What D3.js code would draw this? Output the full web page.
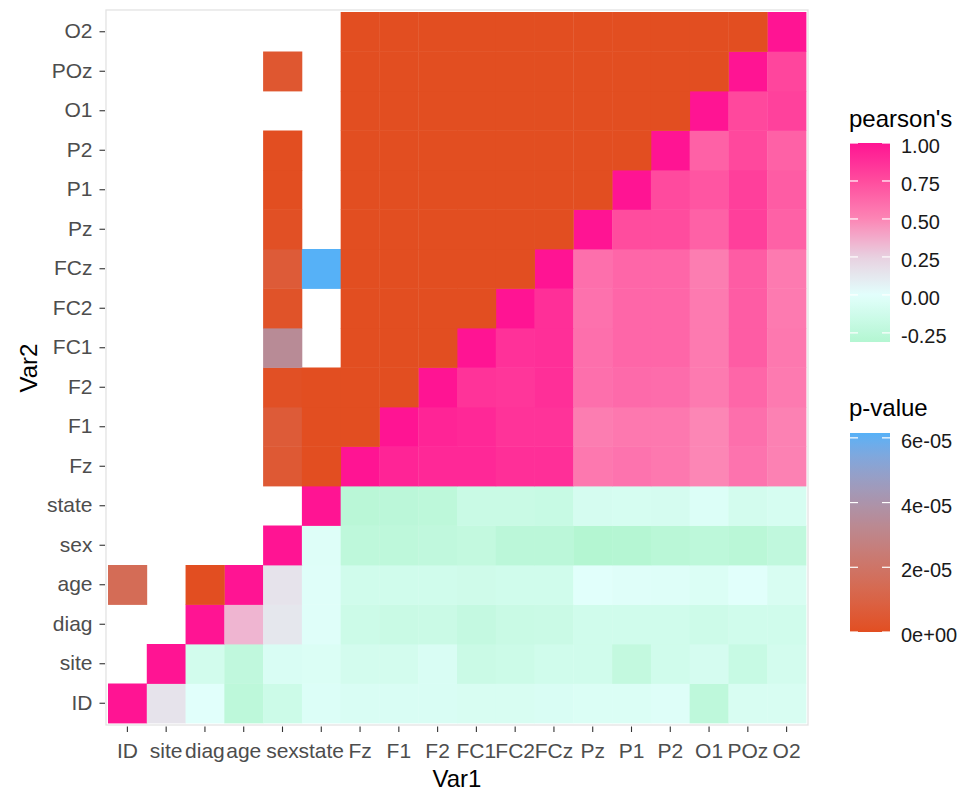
<!DOCTYPE html>
<html>
<head>
<meta charset="utf-8">
<script src="https://cdn.jsdelivr.net/npm/d3@7"></script>
<style>
  body { margin: 0; background: #fff; }
  text { font-family: "Liberation Sans", Arial, sans-serif; }
</style>
</head>
<body>
<svg id="chart" width="972" height="791"></svg>
<script>
// Variables in axis order (bottom-to-top on y, left-to-right on x)
const variables = ["ID", "site", "diag", "age", "sex", "state", "Fz", "F1", "F2",
                   "FC1", "FC2", "FCz", "Pz", "P1", "P2", "O1", "POz", "O2"];

// Pearson's r: row k holds r(variables[k], variables[k..17]), diagonal first
const pearsonRows = [
  [1, 0.15, -0.01, -0.25, -0.15, -0.04, -0.06, -0.06, -0.06, -0.07, -0.07, -0.06, -0.05, -0.05, -0.03, -0.24, -0.07, -0.07], // ID
  [1, -0.11, -0.23, -0.06, -0.05, -0.10, -0.10, -0.06, -0.16, -0.15, -0.12, -0.12, -0.21, -0.12, -0.09, -0.18, -0.10],      // site
  [1, 0.34, 0.13, -0.02, -0.15, -0.17, -0.16, -0.20, -0.17, -0.16, -0.12, -0.12, -0.12, -0.14, -0.12, -0.12],              // diag
  [1, 0.15, -0.02, -0.12, -0.12, -0.12, -0.13, -0.12, -0.12, -0.01, -0.02, -0.03, -0.05, -0.01, -0.07],                   // age
  [1, -0.03, -0.24, -0.24, -0.23, -0.21, -0.26, -0.26, -0.31, -0.30, -0.27, -0.25, -0.27, -0.23],                         // sex
  [1, -0.27, -0.26, -0.25, -0.17, -0.17, -0.18, -0.09, -0.08, -0.09, -0.04, -0.10, -0.08],                                // state
  [1, 0.93, 0.91, 0.91, 0.88, 0.88, 0.56, 0.58, 0.56, 0.50, 0.58, 0.52],  // Fz
  [1, 0.93, 0.91, 0.86, 0.86, 0.54, 0.56, 0.56, 0.50, 0.60, 0.52],        // F1
  [1, 0.86, 0.85, 0.88, 0.60, 0.62, 0.61, 0.55, 0.64, 0.55],              // F2
  [1, 0.87, 0.88, 0.60, 0.64, 0.64, 0.55, 0.68, 0.56],                    // FC1
  [1, 0.88, 0.59, 0.64, 0.64, 0.55, 0.68, 0.55],                          // FC2
  [1, 0.60, 0.64, 0.64, 0.54, 0.68, 0.55],                                // FCz
  [1, 0.75, 0.75, 0.66, 0.81, 0.66],                                      // Pz
  [1, 0.76, 0.71, 0.81, 0.68],                                            // P1
  [1, 0.66, 0.77, 0.66],                                                  // P2
  [1, 0.77, 0.80],                                                        // O1
  [1, 0.78],                                                              // POz
  [1]                                                                     // O2
];

// p-values: row k holds p(variables[0..k-1], variables[k]); null = not significant, left blank
const _ = null;
const pValueRows = [
  [],                                                                  // ID
  [_],                                                                 // site
  [_, _],                                                              // diag
  [1.5e-5, _, 0],                                                      // age
  [_, _, _, _],                                                        // sex
  [_, _, _, _, _],                                                     // state
  [_, _, _, _, 0.5e-5, 0],                                             // Fz
  [_, _, _, _, 0.6e-5, 0, 0],                                          // F1
  [_, _, _, _, 0.1e-5, 0, 0, 0],                                       // F2
  [_, _, _, _, 3.4e-5, _, 0, 0, 0],                                    // FC1
  [_, _, _, _, 0.2e-5, _, 0, 0, 0, 0],                                 // FC2
  [_, _, _, _, 0.6e-5, 6.15e-5, 0, 0, 0, 0, 0],                        // FCz
  [_, _, _, _, 0.1e-5, _, 0, 0, 0, 0, 0, 0],                           // Pz
  [_, _, _, _, 0, _, 0, 0, 0, 0, 0, 0, 0],                             // P1
  [_, _, _, _, 0, _, 0, 0, 0, 0, 0, 0, 0, 0],                          // P2
  [_, _, _, _, _, _, 0, 0, 0, 0, 0, 0, 0, 0, 0],                       // O1
  [_, _, _, _, 0.4e-5, _, 0, 0, 0, 0, 0, 0, 0, 0, 0, 0],               // POz
  [_, _, _, _, _, _, 0, 0, 0, 0, 0, 0, 0, 0, 0, 0, 0]                  // O2
];

const pearsonBreaks = [1.00, 0.75, 0.50, 0.25, 0.00, -0.25];
const pValueBreaks = [6e-5, 4e-5, 2e-5, 0];

// palette anchors for r (mint -> pale cyan -> lavender -> deep pink)
const pearsonStops = [-1, 0, 0.25, 0.5, 0.75, 1];
const pearsonColours = ["#4CE274", "#E2FFFC", "#E8D0E0", "#FC86B5", "#FF4C9E", "#FF1493"];
const pValueColours = ["#E24E21", "#56B1F7"];

// ---- long-format tiles ----
const rTiles = [];
pearsonRows.forEach((row, k) => row.forEach((r, i) => {
  rTiles.push({ var1: variables[k + i], var2: variables[k], value: r });
}));
const pTiles = [];
pValueRows.forEach((row, k) => row.forEach((p, i) => {
  if (p !== null) pTiles.push({ var1: variables[i], var2: variables[k], value: p });
}));

const svg = d3.select("#chart");
const fmtLocale = d3.formatLocale({ decimal: ".", thousands: ",", grouping: [3],
                                    currency: ["", ""], minus: "-" });

const x = d3.scaleBand().domain(variables).range([108, 806]);
const y = d3.scaleBand().domain(variables).range([723, 12]);

const rExtent = d3.extent(rTiles, d => d.value);
const fillR = d3.scaleLinear()
  .domain(pearsonStops)
  .range(pearsonColours)
  .interpolate(d3.interpolateRgb);

const pExtent = [0, d3.max(pTiles, d => d.value)];
const fillP = d3.scaleLinear()
  .domain(pExtent)
  .range(pValueColours)
  .interpolate(d3.interpolateLab);

// panel border
svg.append("rect")
  .attr("x", 106).attr("y", 10).attr("width", 702).attr("height", 715)
  .attr("fill", "#fff").attr("stroke", "#E3E3E3").attr("stroke-width", 1.3);

// tiles
svg.append("g").selectAll("rect.r").data(rTiles).join("rect")
  .attr("class", "r")
  .attr("x", d => x(d.var1)).attr("y", d => y(d.var2))
  .attr("width", x.bandwidth() + 0.4).attr("height", y.bandwidth() + 0.4)
  .attr("fill", d => fillR(d.value));

svg.append("g").selectAll("rect.p").data(pTiles).join("rect")
  .attr("class", "p")
  .attr("x", d => x(d.var1)).attr("y", d => y(d.var2))
  .attr("width", x.bandwidth() + 0.4).attr("height", y.bandwidth() + 0.4)
  .attr("fill", d => fillP(d.value));

// axes
const xAxis = svg.append("g")
  .attr("transform", "translate(0,726.5)")
  .call(d3.axisBottom(x).tickSize(5.5).tickPadding(11));
const yAxis = svg.append("g")
  .attr("transform", "translate(105,0)")
  .call(d3.axisLeft(y).tickSize(5.5).tickPadding(7));
[xAxis, yAxis].forEach(g => {
  g.select(".domain").remove();
  g.selectAll(".tick line").attr("stroke", "#333333").attr("stroke-width", 1.1);
  g.selectAll(".tick text")
    .attr("fill", "#4D4D4D")
    .style("font-size", "21px")
    .style("font-family", "'Liberation Sans', Arial, sans-serif");
});

// axis titles
svg.append("text")
  .attr("x", 457).attr("y", 787)
  .attr("text-anchor", "middle")
  .style("font-size", "24px").attr("fill", "#000")
  .text("Var1");
svg.append("text")
  .attr("transform", "translate(36.5,368) rotate(-90)")
  .attr("text-anchor", "middle")
  .style("font-size", "24px").attr("fill", "#000")
  .text("Var2");

// ---- colourbar legends ----
const defs = svg.append("defs");

function colourbar(id, title, titleY, barTop, domain, fill, breaks, fmt) {
  const barX = 850, barW = 40, barH = 199;
  const pos = d3.scaleLinear().domain(domain).range([barTop + barH, barTop]);

  const grad = defs.append("linearGradient")
    .attr("id", id).attr("x1", 0).attr("y1", 1).attr("x2", 0).attr("y2", 0);
  d3.range(0, 1.0001, 0.02).forEach(t => {
    grad.append("stop")
      .attr("offset", t)
      .attr("stop-color", fill(domain[0] + t * (domain[1] - domain[0])));
  });

  svg.append("text")
    .attr("x", barX - 1).attr("y", titleY)
    .style("font-size", "24px").attr("fill", "#000")
    .text(title);

  svg.append("rect")
    .attr("x", barX).attr("y", barTop).attr("width", barW).attr("height", barH)
    .attr("fill", `url(#${id})`);

  const g = svg.append("g");
  breaks.forEach(b => {
    const yy = pos(b);
    g.append("line").attr("x1", barX).attr("x2", barX + 8).attr("y1", yy).attr("y2", yy)
      .attr("stroke", "#fff").attr("stroke-width", 1.2);
    g.append("line").attr("x1", barX + barW - 8).attr("x2", barX + barW).attr("y1", yy).attr("y2", yy)
      .attr("stroke", "#fff").attr("stroke-width", 1.2);
    g.append("text")
      .attr("x", barX + barW + 11).attr("y", yy + 3)
      .attr("dy", "0.35em")
      .style("font-size", "20px").attr("fill", "#1a1a1a")
      .text(fmt(b));
  });
}

colourbar("grad-r", "pearson's", 126.5, 143, rExtent, fillR, pearsonBreaks, fmtLocale.format(".2f"));
colourbar("grad-p", "p-value", 416, 433, pExtent, fillP, pValueBreaks,
  v => v === 0 ? "0e+00" : fmtLocale.format(".0e")(v).replace(/e-(\d)$/, "e-0$1"));
</script>
</body>
</html>
